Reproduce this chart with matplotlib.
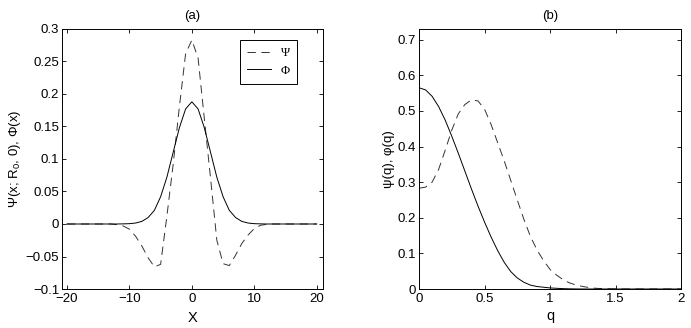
import matplotlib as mpl
mpl.use('Agg')

import matplotlib.pyplot as plt
from matplotlib.ticker import FuncFormatter

plt.rcParams['font.family'] = ['Liberation Sans', 'DejaVu Sans']
plt.rcParams['mathtext.fontset'] = 'custom'
plt.rcParams['mathtext.rm'] = 'Liberation Sans'
plt.rcParams['mathtext.it'] = 'Liberation Sans:italic'
plt.rcParams['lines.scale_dashes'] = False

# panel (a): sampled on integer x
x = list(range(-20, 21))
Psi_x = [0, 0, 0, 0, 0, 0, 0, 0,
         -0.001, -0.003, -0.008, -0.019, -0.034, -0.052, -0.066, -0.062,
         0.012, 0.091, 0.180, 0.262, 0.283, 0.255, 0.162, 0.070,
         -0.025, -0.061, -0.064, -0.048, -0.030, -0.017, -0.007, -0.002,
         -0.0005, 0, 0, 0, 0, 0, 0, 0, 0]
Phi_x = [0, 0, 0, 0, 0, 0, 0, 0,
         0, 0.0002, 0.0005, 0.0015, 0.004, 0.010, 0.021, 0.042,
         0.072, 0.110, 0.148, 0.177, 0.188, 0.177, 0.148, 0.110,
         0.072, 0.042, 0.021, 0.010, 0.004, 0.0015, 0.0005, 0.0002,
         0, 0, 0, 0, 0, 0, 0, 0, 0]

# panel (b): q in steps of 0.05
q = [i * 0.05 for i in range(41)]
psi_q = [0.283, 0.286, 0.300, 0.336, 0.390, 0.446, 0.492, 0.518, 0.531, 0.528,
         0.505, 0.462, 0.411, 0.360, 0.305, 0.250, 0.196, 0.148, 0.110, 0.080,
         0.055, 0.039, 0.026, 0.017, 0.011, 0.007, 0.004, 0.002, 0.001, 0.0005,
         0.0002] + [0] * 10
phi_q = [0.565, 0.559, 0.541, 0.512, 0.474, 0.429, 0.381, 0.331, 0.281, 0.233,
         0.188, 0.146, 0.108, 0.075, 0.049, 0.031, 0.019, 0.011, 0.007, 0.005,
         0.003, 0.002, 0.001, 0.0005, 0.0002] + [0] * 16

fs = 9.5
dash = (0, (6, 4))
fmt = FuncFormatter(lambda v, p: ('%g' % round(v, 4)).replace('-', '\u2212'))

fig = plt.figure(figsize=(6.91, 3.28), dpi=100)
ax1 = fig.add_axes([0.0897, 0.1189, 0.3777, 0.7927])
ax2 = fig.add_axes([0.6064, 0.1189, 0.3792, 0.7927])


def style(ax):
    ax.tick_params(direction='in', top=True, right=True, length=3,
                   width=0.6, labelsize=fs, pad=3)
    ax.tick_params(axis='y', pad=2)
    for s in ax.spines.values():
        s.set_linewidth(0.7)
    ax.xaxis.set_major_formatter(fmt)
    ax.yaxis.set_major_formatter(fmt)


ax1.plot(x, Psi_x, color='#333333', lw=0.7, linestyle=dash, label='\u03a8')
ax1.plot(x, Phi_x, color='black', lw=0.7, label='\u03a6')
ax1.set_xlim(-20.8, 21)
ax1.set_ylim(-0.1, 0.3)
ax1.set_xticks([-20, -10, 0, 10, 20])
ax1.set_yticks([-0.1, -0.05, 0, 0.05, 0.1, 0.15, 0.2, 0.25, 0.3])
style(ax1)
ax1.set_title('(a)', fontsize=9.5, pad=7)
ax1.set_xlabel('X', fontsize=10.5, labelpad=4)
ax1.set_ylabel('\u03a8(x; R$_0$, 0), \u03a6(x)', fontsize=9.5, labelpad=2)
leg = ax1.legend(loc='upper right', bbox_to_anchor=(0.9, 0.957),
                 prop={'family': 'Liberation Serif', 'size': 9},
                 fancybox=False, edgecolor='black', framealpha=1,
                 handlelength=1.9, handletextpad=0.8, borderpad=0.55,
                 labelspacing=0.45, borderaxespad=0)
leg.get_frame().set_linewidth(0.7)

ax2.plot(q, psi_q, color='#333333', lw=0.7, linestyle=dash)
ax2.plot(q, phi_q, color='black', lw=0.7)
ax2.set_xlim(0, 2)
ax2.set_ylim(0, 0.73)
ax2.set_xticks([0, 0.5, 1, 1.5, 2])
ax2.set_yticks([0, 0.1, 0.2, 0.3, 0.4, 0.5, 0.6, 0.7])
style(ax2)
ax2.set_title('(b)', fontsize=9.5, pad=7)
ax2.set_xlabel('q', fontsize=10.5, labelpad=3)
ax2.set_ylabel('\u03c8(q), \u03c6(q)', fontsize=9.5, labelpad=2)

fig.savefig('out.png', dpi=100)
